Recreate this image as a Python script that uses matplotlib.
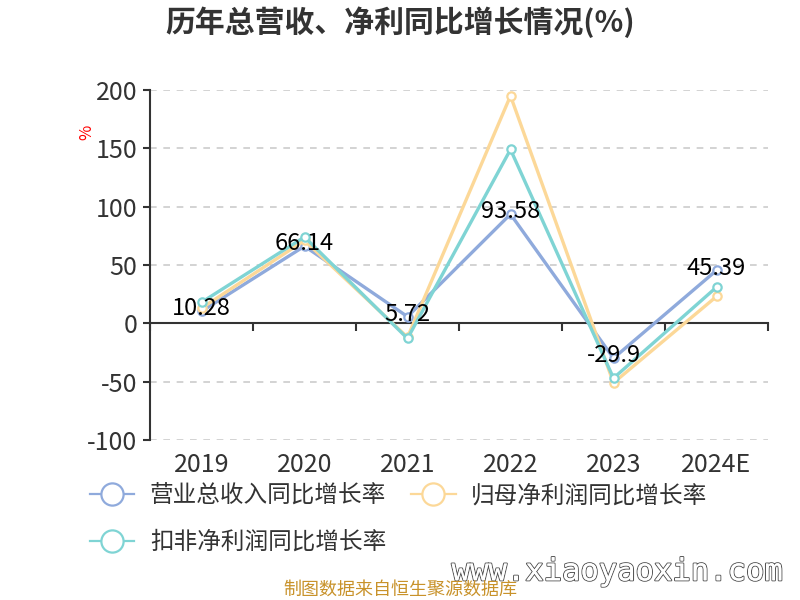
import numpy as np
import matplotlib
matplotlib.use("Agg")
import matplotlib.pyplot as plt
import matplotlib.patheffects as pe
from matplotlib.lines import Line2D

plt.rcParams['font.family'] = ['Noto Sans CJK SC', 'DejaVu Sans']
plt.rcParams['axes.unicode_minus'] = False

# data
years = ["2019", "2020", "2021", "2022", "2023", "2024E"]
revenue_growth = [10.28, 66.14, 5.72, 93.58, -29.9, 45.39]
parent_profit_growth = [13, 71, -12, 195, -51, 23]
deducted_profit_growth = [18, 74, -13, 149, -47, 31]
series_names = ["营业总收入同比增长率", "归母净利润同比增长率", "扣非净利润同比增长率"]
colors = ["#8FAADC", "#FCD898", "#7FD4D4"]

fig = plt.figure(figsize=(8, 6), dpi=100)
ax = fig.add_axes([0.1875, 0.2667, 0.7725, 0.5833])

x = np.arange(len(years))
handles = []
for vals, name, c in zip([revenue_growth, parent_profit_growth, deducted_profit_growth],
                         series_names, colors):
    ax.plot(x, vals, color=c, lw=2.4, marker='o', ms=6, mfc='white', mec=c, mew=1.6,
            zorder=3)
    handles.append(Line2D([0], [0], color=c, lw=1.6, marker='o', ms=16, mfc='white',
                          mec=c, mew=1.6))

# labels on the revenue series
for xi, v in zip(x, revenue_growth):
    ax.text(xi, v + 2, f"{v:g}", ha='center', va='center', fontsize=17, color='black',
            zorder=4)

ax.set_xlim(-0.5, len(years) - 0.5)
ax.set_ylim(-100, 200)
ax.set_yticks([-100, -50, 0, 50, 100, 150, 200])
ax.tick_params(axis='y', labelsize=18, labelcolor='#333333', length=5, width=1.5,
               color='#333333', pad=4)
for t in [-100, -50, 50, 100, 150, 200]:
    ax.axhline(t, color='#CCCCCC', lw=1.2, ls=(0, (4, 4)), zorder=1)

for s in ['top', 'right']:
    ax.spines[s].set_visible(False)
ax.spines['left'].set_color('#333333')
ax.spines['left'].set_linewidth(1.5)
ax.spines['bottom'].set_position(('data', 0))
ax.spines['bottom'].set_color('#333333')
ax.spines['bottom'].set_linewidth(1.5)
ax.set_xticks(np.arange(len(years) + 1) - 0.5)
ax.set_xticklabels([])
ax.tick_params(axis='x', length=6, width=1.5, color='#333333', direction='out')

for xi, lab in zip(x, years):
    ax.text(xi, -0.035, lab, transform=ax.get_xaxis_transform(), ha='center', va='top',
            fontsize=18, color='#333333')

ax.text(-0.102, 0.88, "%", transform=ax.transAxes, rotation=90, color='red',
        fontsize=12, ha='center', va='center')

fig.text(0.5, 0.963, "历年总营收、净利同比增长情况(%)", ha='center', va='center',
         fontsize=21.5, fontweight='bold', color='#333333')

leg = fig.legend([handles[0], handles[2], handles[1]],
                 [series_names[0], series_names[2], series_names[1]],
                 ncol=2, loc='upper left', bbox_to_anchor=(0.112, 0.193), frameon=False,
                 fontsize=17, handlelength=1.9, columnspacing=1.05, labelspacing=1.0,
                 handletextpad=0.65, borderpad=0, borderaxespad=0)
for t in leg.get_texts():
    t.set_color('#333333')

wm = fig.text(0.978, 0.047, "www.xiaoyaoxin.com", ha='right', va='center', fontsize=22,
              color='white', family='DejaVu Sans Mono')
wm.set_path_effects([pe.withStroke(linewidth=1.5, foreground='#555555'), pe.Normal()])

fig.text(0.5, 0.017, "制图数据来自恒生聚源数据库", ha='center', va='center', fontsize=13,
         color='#C8922A')

fig.savefig("out.png", dpi=100)
